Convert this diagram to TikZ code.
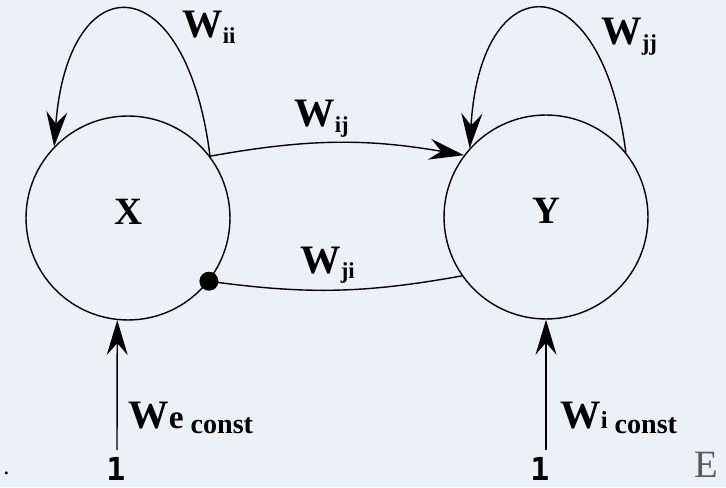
\documentclass[tikz,border=0pt]{standalone}
\usepackage{fontspec}
\setmainfont{Liberation Serif}
\newfontfamily\onefont{DejaVu Sans Mono}
\usepackage{tikz}
\usetikzlibrary{arrows.meta, positioning}
\definecolor{bgblue}{RGB}{236,241,248}
\definecolor{cutgray}{RGB}{90,90,90}

% weight labels
\newcommand{\wsub}[1]{{\fontsize{23}{26}\selectfont\textbf{W}}\raisebox{-0.3em}{\fontsize{13}{15}\selectfont\textbf{#1}}}
\newcommand{\wconst}[2]{{\fontsize{23}{26}\selectfont\textbf{W}}{\fontsize{#2}{20}\selectfont\textbf{#1}}\raisebox{-0.3em}{\fontsize{16}{18}\selectfont\textbf{ const}}}

\begin{document}
\begin{tikzpicture}[x=0.02cm, y=0.02cm,
		neuron/.style={circle, draw, line width=0.8pt, minimum size=4.08cm, inner sep=0pt, text depth=0.26cm, font=\fontsize{22}{26}\selectfont\bfseries},
		link/.style={line width=0.8pt},
		arr/.style={link, -{Stealth[length=0.7cm, width=0.42cm, inset=0.24cm]}},
		dot/.style={circle, fill, inner sep=0pt, minimum size=0.38cm},
		wlabel/.style={inner sep=0pt, anchor=base west},
		one/.style={inner sep=0pt, anchor=base, font=\onefont\bfseries\fontsize{18}{20}\selectfont}]
		% Background
		\fill[bgblue] (0,0) rectangle (726,487);
		\useasboundingbox (0,0) rectangle (726,487);
		% Neurons
		\node[neuron] (X) at (128,269) {X};
		\node[neuron] (Y) at (546,270) {Y};
		% Self connections
		\draw[arr] (X.37) .. controls +(-24,192) and +(14,184) .. (X.136);
		\draw[arr] (Y.39) .. controls +(-24,189) and +(11,186) .. (Y.138);
		% Cross connections: excitatory X -> Y, inhibitory Y -> X
		\draw[arr] (X.37) to[bend left=10] (Y.143);
		\node[dot] (d) at (X.-38) {};
		\draw[link] (d.center) to[bend right=9] (Y.215);
		% Constant inputs
		\node[one] (oneX) at (116,7) {1};
		\node[one] (oneY) at (540,7) {1};
		\coordinate (inX) at (117,37);
		\coordinate (inY) at (546,37);
		\draw[arr] (inX) -- (X.264);
		\draw[arr] (inY) -- (Y.south);
		% Weight labels
		\node[wlabel] (wii) at (182,449) {\wsub{ii}};
		\node[wlabel] (wij) at (294,360) {\wsub{ij}};
		\node[wlabel] (wjj) at (601,442) {\wsub{jj}};
		\node[wlabel] (wji) at (300,214) {\wsub{ji}};
		\node[wlabel] (we) at (128,59) {\wconst{e}{19}};
		\node[wlabel] (wi) at (560,59) {\wconst{i}{14}};
		% Cut-off marks at the edges
		\node[wlabel, font=\fontsize{14}{16}\selectfont] (stop) at (3,13) {.};
		\node[wlabel, text=cutgray, font=\fontsize{22}{26}\selectfont] (cut) at (694,10) {E};
	\end{tikzpicture}
\end{document}
